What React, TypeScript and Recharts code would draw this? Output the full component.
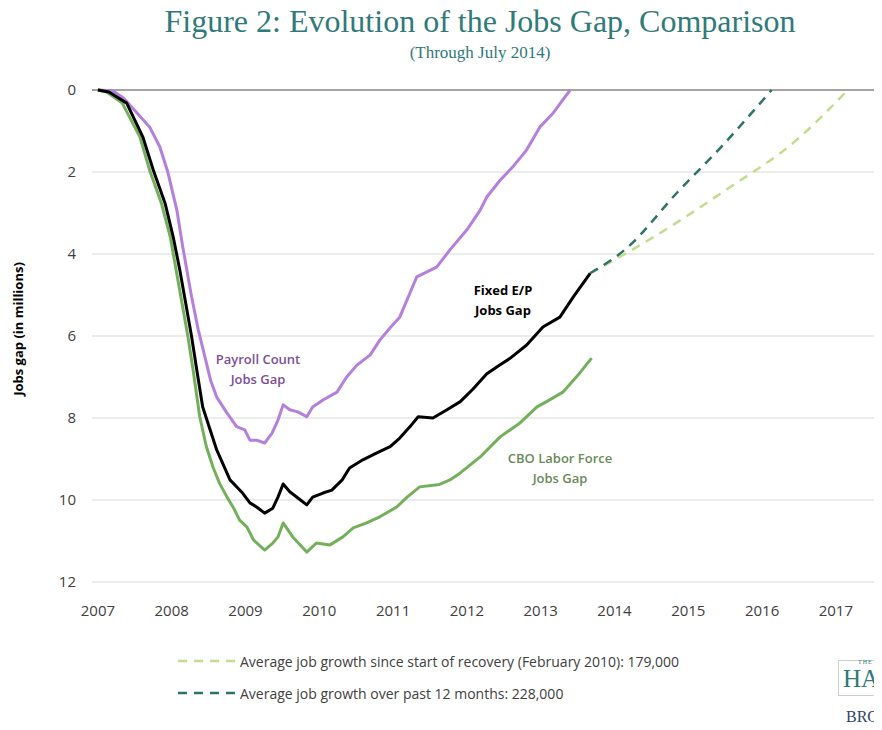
import { LineChart, Line, XAxis, YAxis, CartesianGrid, ReferenceLine, Legend } from 'recharts';

// x = year (fractional), y = jobs gap in millions
const yearTicks = [2007, 2008, 2009, 2010, 2011, 2012, 2013, 2014, 2015, 2016, 2017];
const gapTicks = [0, 2, 4, 6, 8, 10, 12];

const payrollGap: [number, number][] = [
  [2007.0, 0], [2007.2, 0.02], [2007.35, 0.2], [2007.53, 0.56], [2007.7, 0.9], [2007.84, 1.39],
  [2007.95, 2.02], [2008.07, 2.93], [2008.15, 3.83], [2008.27, 5.05], [2008.36, 5.85], [2008.45, 6.51],
  [2008.53, 7.1], [2008.61, 7.49], [2008.75, 7.88], [2008.88, 8.21], [2008.99, 8.29], [2009.06, 8.54],
  [2009.15, 8.54], [2009.26, 8.61], [2009.36, 8.37], [2009.44, 8.05], [2009.51, 7.68], [2009.6, 7.8],
  [2009.71, 7.85], [2009.83, 7.97], [2009.91, 7.73], [2010.05, 7.56], [2010.24, 7.37], [2010.37, 7.0],
  [2010.51, 6.71], [2010.69, 6.46], [2010.82, 6.1], [2010.96, 5.8], [2011.09, 5.54], [2011.32, 4.56],
  [2011.59, 4.32], [2011.77, 3.9], [2012.0, 3.41], [2012.18, 2.93], [2012.27, 2.61], [2012.45, 2.2],
  [2012.62, 1.88], [2012.81, 1.46], [2012.99, 0.9], [2013.17, 0.56], [2013.3, 0.24], [2013.4, 0],
];

const fixedEPGap: [number, number][] = [
  [2007.0, 0], [2007.15, 0.05], [2007.39, 0.32], [2007.61, 1.15], [2007.75, 1.95], [2007.91, 2.76],
  [2008.02, 3.58], [2008.11, 4.39], [2008.19, 5.2], [2008.27, 6.02], [2008.34, 6.83], [2008.42, 7.73],
  [2008.61, 8.78], [2008.79, 9.51], [2008.96, 9.83], [2009.06, 10.07], [2009.15, 10.17], [2009.26, 10.32],
  [2009.37, 10.2], [2009.44, 9.93], [2009.51, 9.61], [2009.6, 9.8], [2009.71, 9.95], [2009.83, 10.12],
  [2009.91, 9.93], [2010.05, 9.83], [2010.17, 9.76], [2010.31, 9.51], [2010.41, 9.22], [2010.59, 9.02],
  [2010.78, 8.85], [2010.96, 8.7], [2011.09, 8.49], [2011.23, 8.21], [2011.34, 7.97], [2011.54, 8.0],
  [2011.73, 7.8], [2011.91, 7.6], [2012.08, 7.3], [2012.27, 6.92], [2012.45, 6.7], [2012.58, 6.55],
  [2012.81, 6.22], [2013.03, 5.78], [2013.26, 5.54], [2013.44, 5.05], [2013.67, 4.47],
];

const cboGap: [number, number][] = [
  [2007.0, 0], [2007.12, 0.05], [2007.33, 0.32], [2007.57, 1.15], [2007.7, 1.95], [2007.86, 2.76],
  [2007.98, 3.58], [2008.06, 4.39], [2008.14, 5.2], [2008.22, 6.02], [2008.29, 6.83], [2008.38, 7.97],
  [2008.47, 8.7], [2008.56, 9.2], [2008.65, 9.6], [2008.75, 9.93], [2008.84, 10.2], [2008.92, 10.49],
  [2009.02, 10.66], [2009.11, 10.98], [2009.26, 11.22], [2009.37, 11.05], [2009.44, 10.9], [2009.51, 10.56],
  [2009.64, 10.9], [2009.83, 11.27], [2009.96, 11.05], [2010.14, 11.1], [2010.32, 10.9], [2010.46, 10.68],
  [2010.64, 10.56], [2010.82, 10.41], [2011.05, 10.17], [2011.19, 9.93], [2011.36, 9.68], [2011.63, 9.62],
  [2011.77, 9.51], [2011.91, 9.34], [2012.18, 8.95], [2012.45, 8.46], [2012.72, 8.12], [2012.95, 7.73],
  [2013.08, 7.6], [2013.3, 7.37], [2013.53, 6.9], [2013.69, 6.54],
];

// projections from the last Fixed E/P point
const recoveryPace: [number, number][] = [
  [2013.67, 4.47], [2014.5, 3.62], [2015.5, 2.45], [2016.5, 1.17], [2017.16, 0],
];
const recentPace: [number, number][] = [
  [2013.67, 4.47], [2014.17, 3.85], [2014.85, 2.5], [2015.45, 1.38], [2016.13, 0],
];

const legendItems = [
  { label: 'Average job growth since start of recovery (February 2010): 179,000', color: '#c3dc8e' },
  { label: 'Average job growth over past 12 months: 228,000', color: '#2d7468' },
];

const toPoints = (rows: [number, number][]) => rows.map(([x, y]) => ({ x, y }));

const sans = '"Open Sans", "Noto Sans", sans-serif';
const serif = '"Liberation Serif", "DejaVu Serif", serif';
const teal = '#2f7a7a';

const ProjectionLegend = () => (
  <div style={{ fontFamily: sans, fontSize: 14, color: '#404040' }}>
    {legendItems.map((item) => (
      <div key={item.label} style={{ display: 'flex', alignItems: 'center', height: 32 }}>
        <svg width={60} height={10}>
          <line x1={0} y1={5} x2={58} y2={5} stroke={item.color} strokeWidth={2.5} strokeDasharray="9 7" />
        </svg>
        <span style={{ marginLeft: 2 }}>{item.label}</span>
      </div>
    ))}
  </div>
);

const note = (text: string[], left: number, top: number, color: string, weight = 600) => (
  <div
    style={{
      position: 'absolute', left, top, transform: 'translateX(-50%)', textAlign: 'center',
      fontFamily: sans, fontSize: 13, fontWeight: weight, color, lineHeight: '20px', whiteSpace: 'nowrap',
    }}
  >
    {text.map((t) => <div key={t}>{t}</div>)}
  </div>
);

export default function App() {
  return (
    <div style={{ position: 'relative', width: 882, height: 730, margin: -8, overflow: 'hidden', background: '#fff' }}>
      <div style={{ position: 'absolute', left: 0, width: 960, top: 3, textAlign: 'center', fontFamily: serif, fontSize: 32, color: teal, whiteSpace: 'nowrap' }}>
        Figure 2: Evolution of the Jobs Gap, Comparison
      </div>
      <div style={{ position: 'absolute', left: 0, width: 960, top: 43, textAlign: 'center', fontFamily: serif, fontSize: 17, color: teal }}>
        (Through July 2014)
      </div>

      <LineChart width={882} height={730} margin={{ top: 90, right: 7, bottom: 118, left: 0 }}>
        <CartesianGrid vertical={false} stroke="#d9d9d9" />
        <XAxis
          type="number"
          dataKey="x"
          domain={[2006.92, 2017.53]}
          ticks={yearTicks}
          allowDataOverflow
          axisLine={false}
          tickLine={false}
          tickMargin={17}
          height={30}
          tick={{ fill: '#404040', fontSize: 15, fontFamily: sans }}
        />
        <YAxis
          type="number"
          dataKey="y"
          reversed
          domain={[0, 12]}
          ticks={gapTicks}
          width={92}
          axisLine={false}
          tickLine={false}
          tickMargin={10}
          tick={{ fill: '#404040', fontSize: 15, fontFamily: sans }}
        />
        <ReferenceLine y={0} stroke="#8c8c8c" strokeWidth={1.5} />
        <Legend
          layout="horizontal"
          verticalAlign="middle"
          align="center"
          content={<ProjectionLegend />}
          wrapperStyle={{ left: 178, top: 645, width: 640 }}
        />
        <Line data={toPoints(recoveryPace)} dataKey="y" name="recovery" type="monotone" stroke="#c3dc8e" strokeWidth={2.5} strokeDasharray="9 7" dot={false} legendType="none" isAnimationActive={false} />
        <Line data={toPoints(recentPace)} dataKey="y" name="recent" type="monotone" stroke="#2d7468" strokeWidth={2.5} strokeDasharray="9 7" dot={false} legendType="none" isAnimationActive={false} />
        <Line data={toPoints(cboGap)} dataKey="y" name="CBO Labor Force Jobs Gap" type="linear" stroke="#74b05c" strokeWidth={3} strokeLinejoin="round" dot={false} legendType="none" isAnimationActive={false} />
        <Line data={toPoints(payrollGap)} dataKey="y" name="Payroll Count Jobs Gap" type="linear" stroke="#b57fdc" strokeWidth={3} strokeLinejoin="round" dot={false} legendType="none" isAnimationActive={false} />
        <Line data={toPoints(fixedEPGap)} dataKey="y" name="Fixed E/P Jobs Gap" type="linear" stroke="#000" strokeWidth={3} strokeLinejoin="round" dot={false} legendType="none" isAnimationActive={false} />
      </LineChart>

      <div
        style={{
          position: 'absolute', left: 18, top: 329, transform: 'translate(-50%, -50%) rotate(-90deg)',
          fontFamily: sans, fontSize: 13, fontWeight: 700, color: '#000', whiteSpace: 'nowrap',
        }}
      >
        Jobs gap (in millions)
      </div>

      {note(['Payroll Count', 'Jobs Gap'], 258, 349, '#7d4f9a')}
      {note(['Fixed E/P', 'Jobs Gap'], 503, 280, '#000', 700)}
      {note(['CBO Labor Force', 'Jobs Gap'], 560, 448, '#6a8a58')}

      {/* partial logo, cut by the right edge as in the reference */}
      <div style={{ position: 'absolute', left: 838, top: 660, width: 80, height: 34, border: '1px solid #c8d4c8' }} />
      <div style={{ position: 'absolute', left: 858, top: 659, fontFamily: serif, fontSize: 6, color: teal, letterSpacing: 1 }}>THE</div>
      <div style={{ position: 'absolute', left: 843, top: 665, fontFamily: serif, fontSize: 25, color: teal, whiteSpace: 'nowrap' }}>HA</div>
      <div style={{ position: 'absolute', left: 846, top: 708, fontFamily: serif, fontSize: 16, color: '#2d4766', whiteSpace: 'nowrap' }}>BRO</div>
    </div>
  );
}
